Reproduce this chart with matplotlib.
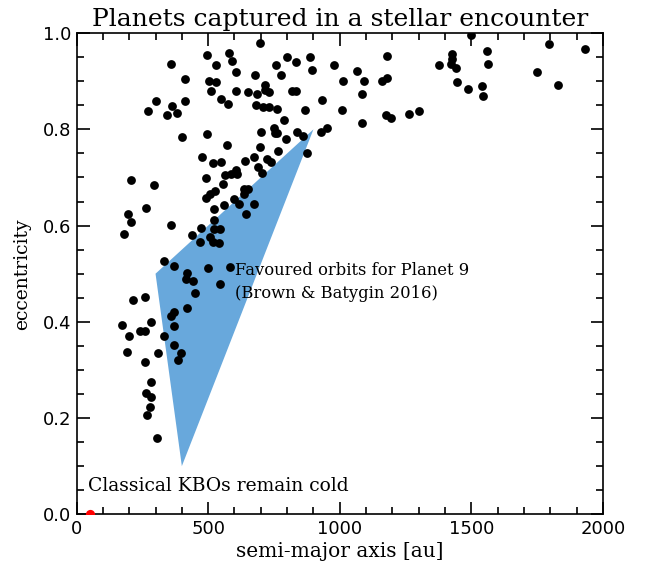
import matplotlib
matplotlib.use('Agg')
import matplotlib.pyplot as plt
from matplotlib.ticker import MultipleLocator

# captured planets: semi-major axis [au] and eccentricity
semi_major = [
    697, 496, 579, 589, 528, 360, 604, 801, 888, 835, 756, 895, 778, 679,
    412, 505, 528, 511, 604, 650, 684, 716, 717, 731, 818, 833, 550, 576,
    302, 271, 345, 364, 383, 412, 681, 710, 730, 760, 790, 869, 931, 930,
    702, 750, 754, 760, 797, 837, 859, 874, 497, 400, 573, 697, 765, 477,
    517, 549, 673, 641, 722, 737, 688, 704, 491, 565, 586, 604, 610, 557,
    206, 294, 493, 508, 525, 599, 635, 653, 636, 619, 675, 559, 523, 644,
    262, 197, 207, 182, 360, 521, 472, 437, 523, 546, 506, 520, 540, 470,
    332, 369, 498, 583, 419, 415, 444, 546, 450, 216, 259, 421, 372, 358,
    282, 173, 242, 259, 372, 333, 199, 192, 308, 372, 395, 387, 259, 282,
    264, 284, 279, 266, 307,
    1499, 1796, 1933, 1180, 977, 1065, 1013, 1092, 1161, 1180, 1084, 1009,
    1177, 1194, 1265, 1303, 1083, 951, 1377, 1425, 1425, 1423, 1441, 1560,
    1564, 1445, 1487, 1541, 1546, 1751, 1830,
]
eccentricity = [
    0.979, 0.954, 0.958, 0.942, 0.934, 0.935, 0.920, 0.950, 0.951, 0.940, 0.934, 0.923, 0.914, 0.913,
    0.904, 0.900, 0.898, 0.880, 0.880, 0.878, 0.873, 0.892, 0.882, 0.878, 0.880, 0.880, 0.864, 0.852,
    0.859, 0.838, 0.830, 0.848, 0.835, 0.858, 0.851, 0.846, 0.846, 0.843, 0.820, 0.841, 0.862, 0.795,
    0.795, 0.802, 0.793, 0.792, 0.781, 0.795, 0.787, 0.750, 0.790, 0.784, 0.768, 0.763, 0.755, 0.742,
    0.730, 0.732, 0.742, 0.734, 0.738, 0.733, 0.722, 0.709, 0.698, 0.705, 0.708, 0.715, 0.708, 0.687,
    0.695, 0.685, 0.658, 0.665, 0.671, 0.656, 0.676, 0.676, 0.666, 0.645, 0.644, 0.643, 0.635, 0.624,
    0.636, 0.625, 0.608, 0.583, 0.602, 0.612, 0.595, 0.581, 0.592, 0.592, 0.577, 0.566, 0.564, 0.565,
    0.526, 0.517, 0.512, 0.514, 0.501, 0.490, 0.485, 0.479, 0.459, 0.446, 0.452, 0.428, 0.420, 0.412,
    0.400, 0.394, 0.380, 0.381, 0.391, 0.371, 0.370, 0.337, 0.335, 0.352, 0.335, 0.320, 0.317, 0.275,
    0.251, 0.243, 0.223, 0.207, 0.158,
    0.997, 0.978, 0.967, 0.952, 0.934, 0.922, 0.900, 0.900, 0.901, 0.907, 0.874, 0.840,
    0.830, 0.823, 0.833, 0.839, 0.813, 0.803, 0.933, 0.956, 0.947, 0.936, 0.928, 0.962,
    0.936, 0.899, 0.883, 0.891, 0.869, 0.919, 0.893,
]

# classical KBOs
kbo_a = [51]
kbo_e = [0.0]

# favoured region for Planet 9 (Brown & Batygin 2016)
p9_a = [300, 900, 400]
p9_e = [0.5, 0.8, 0.1]

serif = 'DejaVu Serif'

fig = plt.figure(figsize=(6.49, 5.72), dpi=100)
ax = fig.add_axes([0.118, 0.101, 0.811, 0.841])

ax.fill(p9_a, p9_e, color='#68a8dc', lw=0, zorder=1)
ax.scatter(semi_major, eccentricity, s=40, color='black', lw=0, zorder=3)
ax.scatter(kbo_a, kbo_e, s=44, color='red', lw=0, zorder=3)

ax.text(602, 0.506, 'Favoured orbits for Planet 9', family=serif, fontsize=11.8,
        ha='left', va='center', zorder=4)
ax.text(602, 0.458, '(Brown & Batygin 2016)', family=serif, fontsize=11.8,
        ha='left', va='center', zorder=4)
ax.text(44, 0.058, 'Classical KBOs remain cold', family=serif, fontsize=13.5,
        ha='left', va='center', zorder=4)

ax.set_xlim(0, 2000)
ax.set_ylim(0, 1)
ax.xaxis.set_major_locator(MultipleLocator(500))
ax.xaxis.set_minor_locator(MultipleLocator(100))
ax.yaxis.set_major_locator(MultipleLocator(0.2))
ax.yaxis.set_minor_locator(MultipleLocator(0.05))
ax.yaxis.set_major_formatter(plt.FormatStrFormatter('%.1f'))
ax.tick_params(which='both', direction='in', top=True, right=True, width=1.2,
               labelsize=13)
ax.tick_params(axis='x', pad=4)
ax.tick_params(axis='y', pad=4)
ax.tick_params(which='major', length=9)
ax.tick_params(which='minor', length=5)
for s in ax.spines.values():
    s.set_linewidth(1.2)

ax.set_xlabel('semi-major axis [au]', family=serif, fontsize=14.5, labelpad=3)
ax.set_ylabel('eccentricity', family=serif, fontsize=13.5, labelpad=8)
ax.set_title('Planets captured in a stellar encounter', family=serif,
             fontsize=18, pad=5)

fig.savefig('out.png', dpi=100)
